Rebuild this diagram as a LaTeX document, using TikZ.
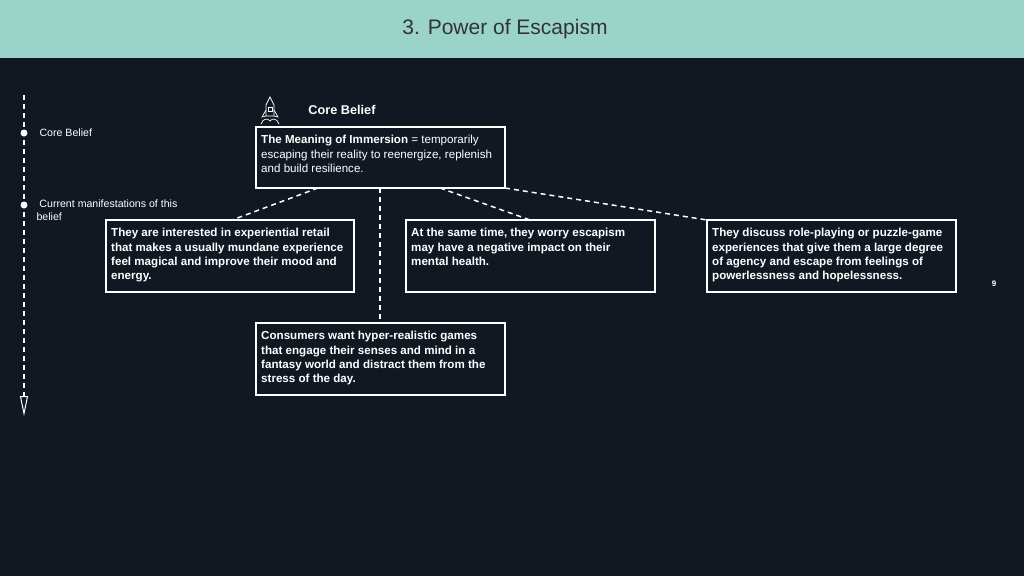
\documentclass[tikz,border=0pt]{standalone}
\usepackage{fontspec}
\setmainfont{Liberation Sans}
\usetikzlibrary{arrows.meta}
\definecolor{bg}{HTML}{121822}
\definecolor{head}{HTML}{9AD3C7}
\begin{document}
\begin{tikzpicture}[x=1pt,y=-1pt,
  card/.style={text=white,anchor=north west,align=left,inner sep=5pt,font=\fontsize{11.6}{14.4}\selectfont\bfseries},
  frame/.style={draw=white,line width=1.2pt},
  link/.style={white,line width=1.5pt,dash pattern=on 5pt off 4pt},
  lbl/.style={text=white,font=\fontsize{10.6}{13}\selectfont,anchor=west,align=left}]
\fill[bg] (0,0) rectangle (1024,576);
\useasboundingbox (0,0) rectangle (1024,576);
\fill[head] (0,0) rectangle (1024,58);
\node[text=black!80] (title) at (505,29) {\fontsize{21}{24}\selectfont 3. Power of Escapism};
% core
\draw[frame] (256,127) rectangle (505,188);
\node[card,font=\fontsize{11.6}{14.4}\selectfont] (core) at (256,130) {\textbf{The Meaning of Immersion} = temporarily\\escaping their reality to reenergize, replenish\\and build resilience.};
\coordinate (cb1) at (318,188);\coordinate (cb2) at (380,188);\coordinate (cb3) at (440,188);\coordinate (cb4) at (505,188);
\node[text=white,font=\fontsize{12.7}{14}\selectfont\bfseries] (cbl) at (342,110) {Core Belief};
% rocket
\begin{scope}[white,line width=0.7pt]
\draw (270,97) -- (274,105) -- (274,116) -- (266,116) -- (266,105) -- cycle;
\draw (268,107) rectangle (272,111);
\draw (266,110) -- (262,117) -- (266,116) (274,110) -- (278,117) -- (274,116);
\draw (261,124) .. controls (263,118) and (268,118) .. (270,121) .. controls (272,118) and (277,118) .. (279,124);
\end{scope}
% boxes
\draw[frame] (106,220) rectangle (354,292);
\node[card] (b1) at (106,223) {They are interested in experiential retail\\that makes a usually mundane experience\\feel magical and improve their mood and\\energy.};
\draw[frame] (406,220) rectangle (655,292);
\node[card] (b2) at (406,223) {At the same time, they worry escapism\\may have a negative impact on their\\mental health.};
\draw[frame] (707,220) rectangle (956,292);
\node[card] (b3) at (707,223) {They discuss role-playing or puzzle-game\\experiences that give them a large degree\\of agency and escape from feelings of\\powerlessness and hopelessness.};
\draw[frame] (256,323) rectangle (505,395);
\node[card] (b4) at (256,326) {Consumers want hyper-realistic games\\that engage their senses and mind in a\\fantasy world and distract them from the\\stress of the day.};
\coordinate (t1) at (232,220);\coordinate (t4) at (380,323);\coordinate (t2) at (530,220);\coordinate (t3) at (707,220);
\draw[link] (cb1) -- (t1);
\draw[link] (cb2) -- (t4);
\draw[link] (cb3) -- (t2);
\draw[link] (cb4) -- (t3);
% timeline
\coordinate (tl0) at (24,95);\coordinate (tl1) at (24,416);
\draw[link] (tl0) -- (24,398);
\draw[white,line width=1pt,-{Triangle[open,length=20pt,width=8pt]}] (24,396) -- (tl1);
\fill[white] (24,133) circle (3.5pt) (24,205) circle (3.5pt);
\node[lbl] (l1) at (36,133) {Core Belief};
\node[lbl] (l2) at (33,210) {\ Current manifestations of this\\belief};
\node[text=white,font=\fontsize{8}{9}\selectfont\bfseries] (pg) at (994,284) {9};
\end{tikzpicture}
\end{document}
